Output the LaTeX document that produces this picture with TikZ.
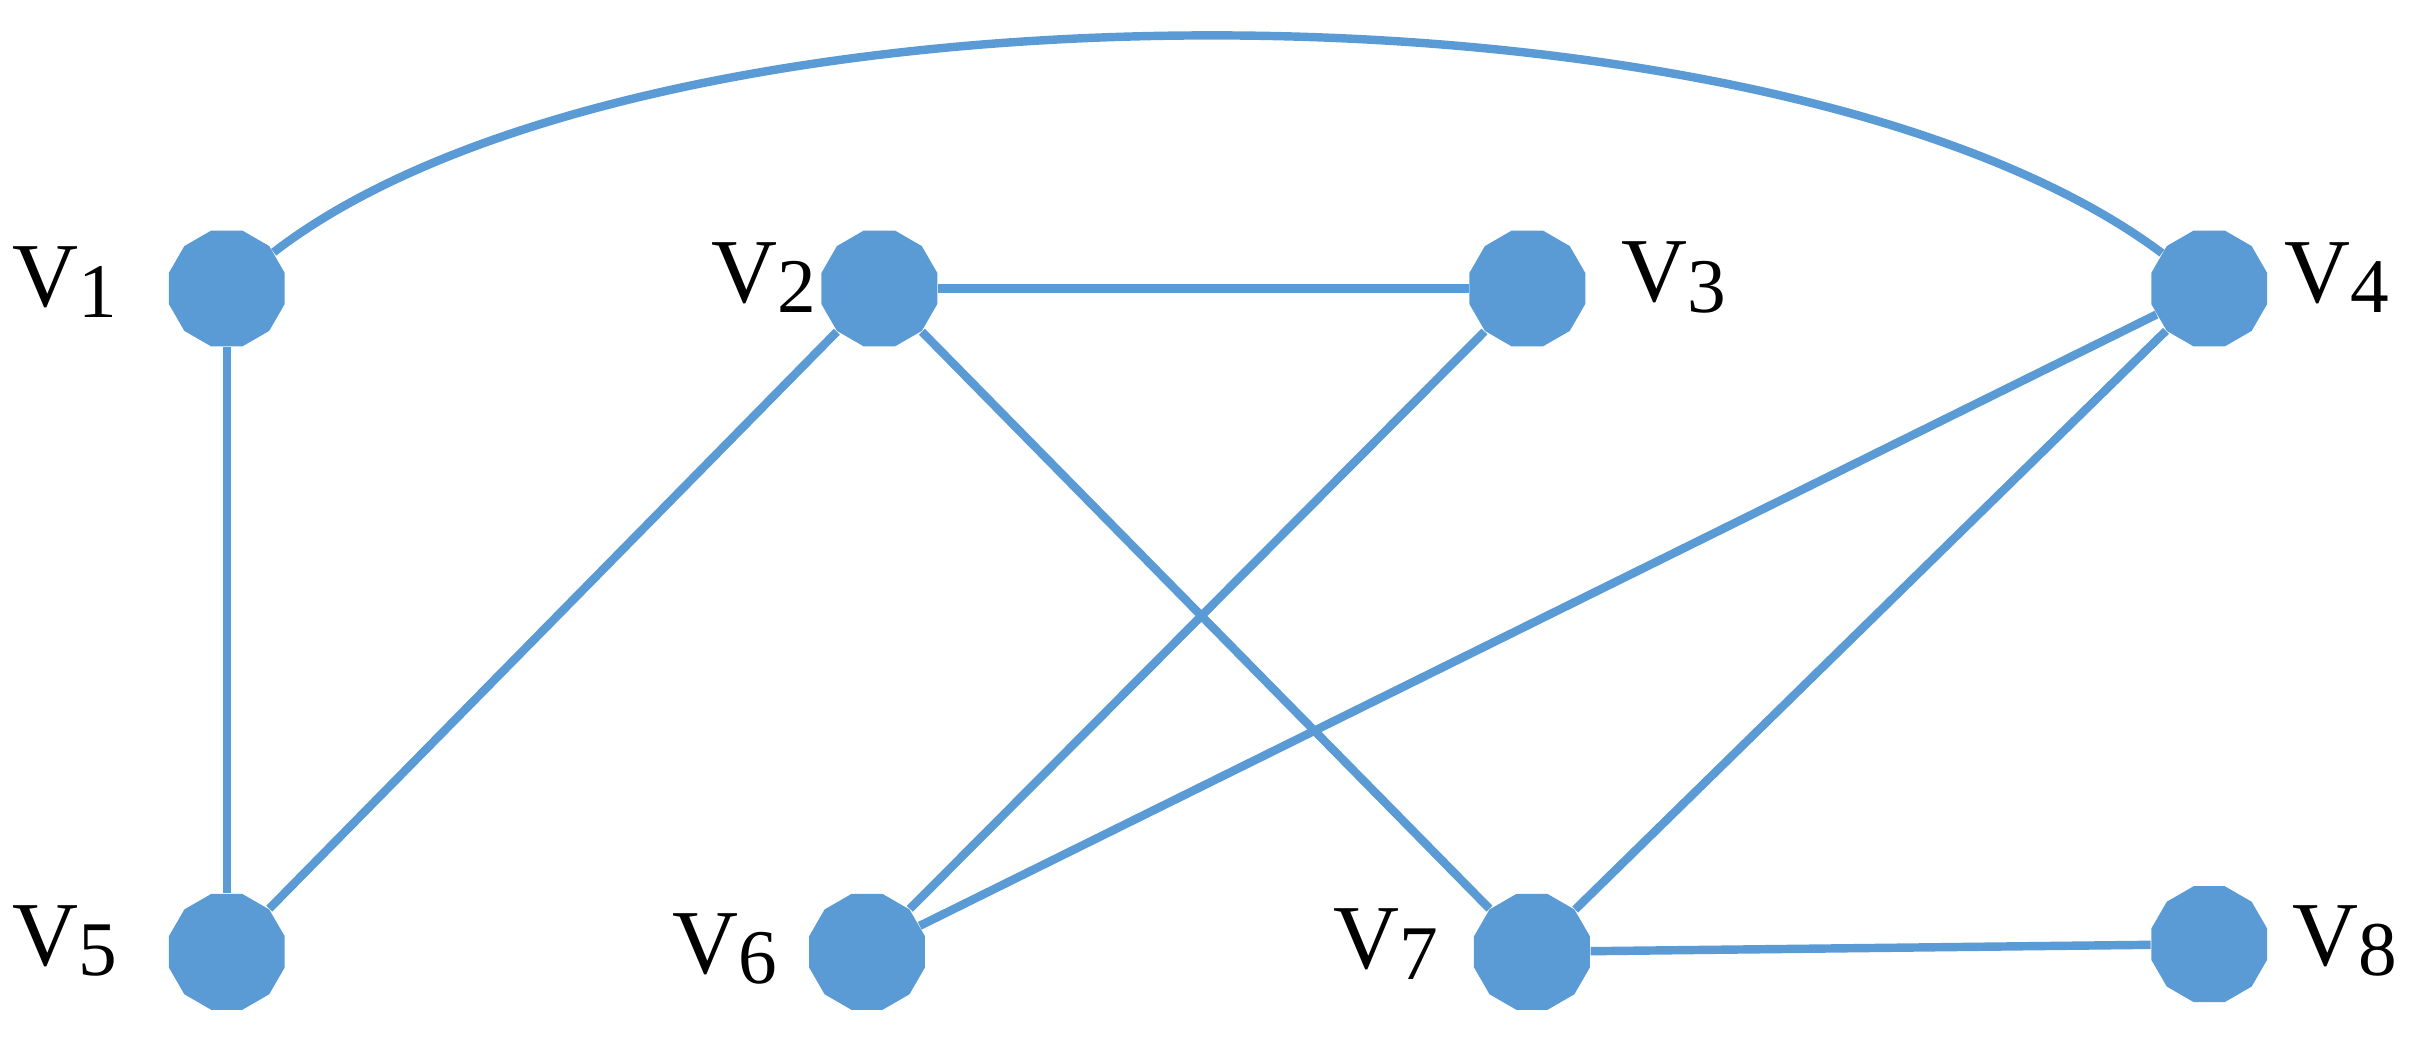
\documentclass[tikz,border=0pt]{standalone}
\usepackage{fontspec}
\setmainfont{Liberation Serif}
\usepackage{tikz}
\usetikzlibrary{shapes.geometric}
\definecolor{vblue}{RGB}{91,155,213}
\begin{document}
\begin{tikzpicture}[x=0.015427cm, y=-0.015427cm,
        % vertex and label styles
        vertex/.style={regular polygon, regular polygon sides=12, fill=vblue, draw=none, minimum size=1.2cm, inner sep=0pt},
        vlabel/.style={font=\fontsize{26}{30}\selectfont, inner sep=0pt},
        edge/.style={draw=vblue, line width=2.4pt}
      ]
      \useasboundingbox (0,0) rectangle (1568,672);

      % vertices
      \foreach \n/\x/\y in {1/147/187, 2/570/187, 3/990/187, 4/1432/187,
                            5/147/617, 6/562/617, 7/993/617, 8/1432/612} {
        \node[vertex] (v\n) at (\x,\y) {};
      }

      % labels
      \foreach \n/\x/\y in {1/42/183, 2/495/180, 3/1085/180, 4/1515/180,
                            5/42/610, 6/470/615, 7/898/612, 8/1520/610} {
        \node[vlabel] (l\n) at (\x,\y) {V\raisebox{-0.25ex}{\fontsize{22}{26}\selectfont\n}};
      }

      % edges
      \draw[edge] (v1) .. controls (420,-24) and (1150,-24) .. (v4);
      \foreach \a/\b in {1/5, 2/3, 2/5, 2/7, 3/6, 4/6, 4/7, 7/8} {
        \draw[edge] (v\a) -- (v\b);
      }
    \end{tikzpicture}
\end{document}
